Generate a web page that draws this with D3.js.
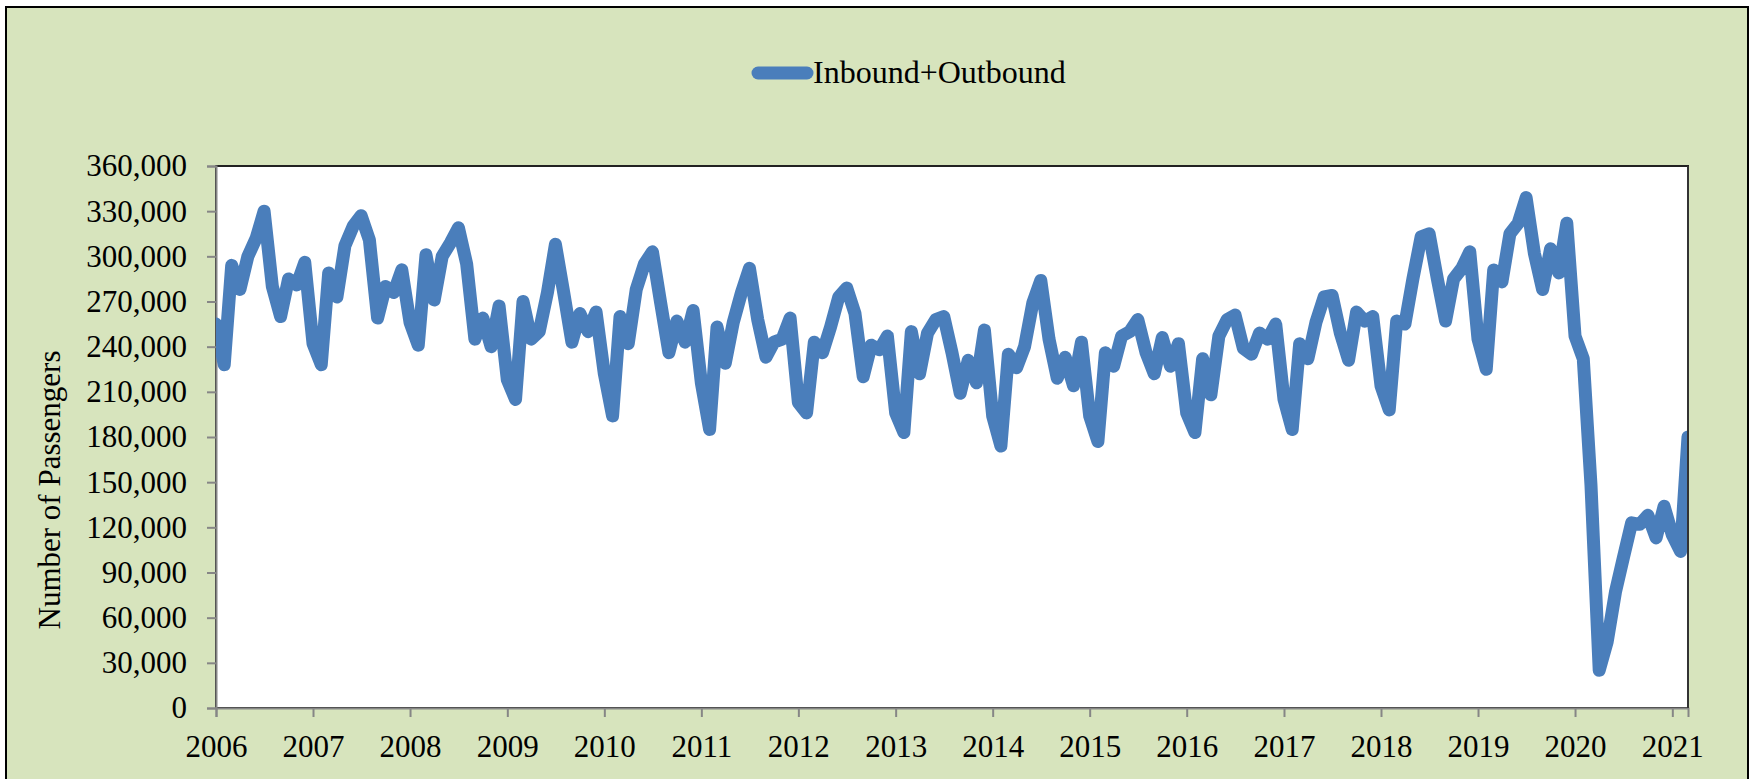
<!DOCTYPE html>
<html>
<head>
<meta charset="utf-8">
<script src="https://cdn.jsdelivr.net/npm/d3@7"></script>
<style>
    html, body { margin: 0; padding: 0; background: #fff; }
    svg { display: block; }
</style>
</head>
<body>
<div id="chart"></div>
<script>
// Monthly passengers, Jan 2006 .. Mar 2021 (one row per year)
const startYear = 2006;
const passengers = [
    255000, 228000, 294000, 278000, 300000, 312000, 330000, 280000, 260000, 285000, 281000, 296000,
    242000, 228000, 289000, 273000, 307000, 320000, 327000, 311000, 259000, 280000, 276000, 291000,
    256000, 241000, 301000, 271000, 300000, 309000, 319000, 295000, 245000, 259000, 240000, 267000,
    218000, 205000, 270000, 245000, 250000, 276000, 308000, 276000, 243000, 262000, 250000, 263000,
    222000, 194000, 260000, 242000, 278000, 295000, 303000, 269000, 236000, 257000, 243000, 264000,
    216000, 185000, 253000, 229000, 256000, 276000, 292000, 258000, 233000, 243000, 245000, 259000,
    203000, 196000, 243000, 236000, 253000, 273000, 279000, 262000, 220000, 241000, 238000, 247000,
    196000, 183000, 250000, 222000, 249000, 258000, 260000, 236000, 209000, 231000, 216000, 251000,
    194000, 174000, 235000, 226000, 240000, 269000, 284000, 245000, 219000, 233000, 214000, 243000,
    194000, 177000, 236000, 227000, 247000, 250000, 258000, 236000, 222000, 246000, 227000, 242000,
    196000, 183000, 232000, 208000, 247000, 258000, 261000, 239000, 235000, 249000, 245000, 255000,
    205000, 185000, 242000, 232000, 256000, 273000, 274000, 249000, 231000, 263000, 257000, 260000,
    214000, 198000, 257000, 255000, 285000, 313000, 315000, 285000, 257000, 285000, 292000, 303000,
    245000, 225000, 291000, 283000, 315000, 322000, 339000, 302000, 278000, 305000, 289000, 322000,
    247000, 232000, 148000, 25000, 44000, 77000, 100000, 123000, 122000, 128000, 113000, 134000,
    115000, 104000, 180000
];
const yearTicks = d3.range(2006, 2022);
const yTicks = d3.range(0, 360001, 30000);
const seriesName = "Inbound+Outbound";
const yTitle = "Number of Passengers";

const width = 1754, height = 779;
const plot = { left: 216, right: 1688, top: 166, bottom: 708 };
const lineColor = "#4a7ebb";
const bgColor = "#d7e4bd";
const axisColor = "#868686";
const font = "'Liberation Serif', 'Times New Roman', serif";

// month dates for each value
const data = passengers.map((v, i) => ({ date: new Date(startYear, i, 1), value: v }));

const svg = d3.select("#chart")
    .append("svg")
    .attr("width", width)
    .attr("height", height)
    .style("font-family", font);

// outer chart area
svg.append("rect")
    .attr("x", 6).attr("y", 7)
    .attr("width", 1742).attr("height", 800)
    .attr("fill", bgColor)
    .attr("stroke", "#000")
    .attr("stroke-width", 2);

const x = d3.scaleTime()
    .domain([data[0].date, data[data.length - 1].date])
    .range([plot.left, plot.right]);

const y = d3.scaleLinear()
    .domain([0, 360000])
    .range([plot.bottom, plot.top]);

// plot area
svg.append("rect")
    .attr("x", plot.left).attr("y", plot.top)
    .attr("width", plot.right - plot.left)
    .attr("height", plot.bottom - plot.top)
    .attr("fill", "#fff")
    .attr("stroke", "#222")
    .attr("stroke-width", 2);

svg.append("clipPath")
    .attr("id", "plot-clip")
    .append("rect")
    .attr("x", plot.left).attr("y", plot.top)
    .attr("width", plot.right - plot.left)
    .attr("height", plot.bottom - plot.top);

// y axis
const yAxis = svg.append("g")
    .attr("transform", `translate(${plot.left},0)`)
    .call(d3.axisLeft(y).tickValues(yTicks).tickFormat(d3.format(",")).tickSize(9).tickPadding(20));

// x axis
const xAxis = svg.append("g")
    .attr("transform", `translate(0,${plot.bottom})`)
    .call(d3.axisBottom(x)
        .tickValues(yearTicks.map(yr => new Date(yr, 0, 1)))
        .tickFormat(d3.timeFormat("%Y"))
        .tickSize(9)
        .tickPadding(18));

[yAxis, xAxis].forEach(g => {
    g.select(".domain").attr("stroke", axisColor).attr("stroke-width", 2);
    g.selectAll(".tick line").attr("stroke", axisColor).attr("stroke-width", 2);
    g.selectAll(".tick text")
        .attr("fill", "#000")
        .style("font-family", font)
        .style("font-size", "31px");
});

// the series line
const line = d3.line()
    .x(d => x(d.date))
    .y(d => y(d.value));

svg.append("path")
    .datum(data)
    .attr("clip-path", "url(#plot-clip)")
    .attr("d", line)
    .attr("fill", "none")
    .attr("stroke", lineColor)
    .attr("stroke-width", 13)
    .attr("stroke-linejoin", "round")
    .attr("stroke-linecap", "round");

// redraw right border over the line end
svg.append("line")
    .attr("x1", plot.right).attr("x2", plot.right)
    .attr("y1", plot.top).attr("y2", plot.bottom)
    .attr("stroke", "#333").attr("stroke-width", 2);

// y axis title
svg.append("text")
    .attr("transform", "translate(60,490) rotate(-90)")
    .attr("text-anchor", "middle")
    .style("font-size", "31px")
    .text(yTitle);

// legend
const legend = svg.append("g");
legend.append("line")
    .attr("x1", 758).attr("x2", 807)
    .attr("y1", 73).attr("y2", 73)
    .attr("stroke", lineColor)
    .attr("stroke-width", 13)
    .attr("stroke-linecap", "round");
legend.append("text")
    .attr("x", 813).attr("y", 83)
    .style("font-size", "32px")
    .text(seriesName);
</script>
</body>
</html>
